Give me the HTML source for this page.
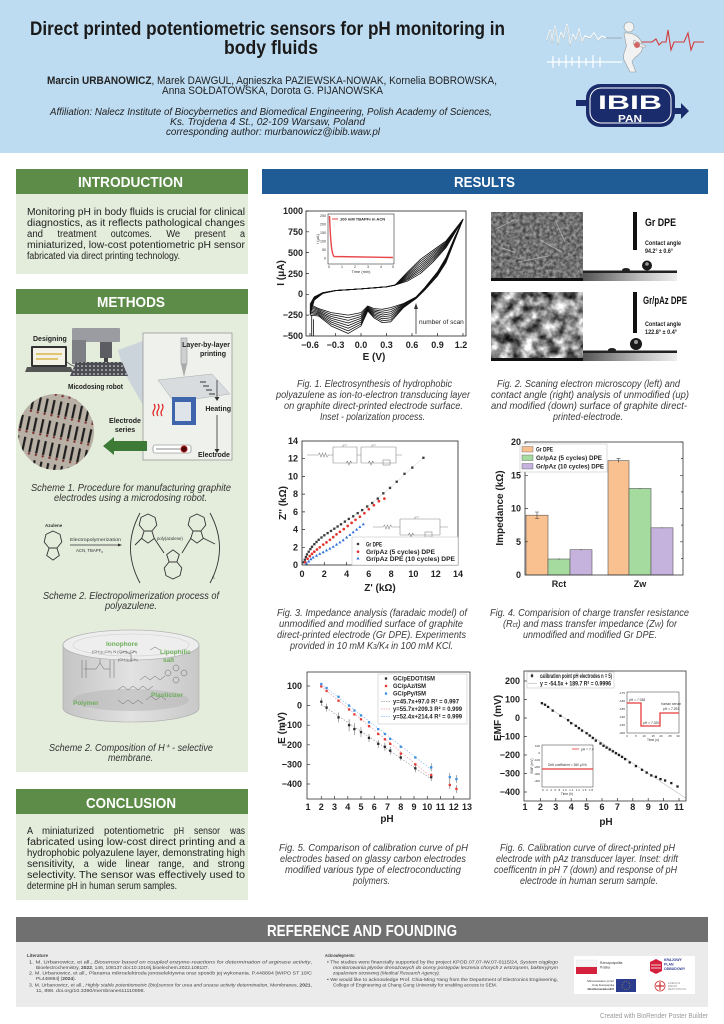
<!DOCTYPE html>
<html><head><meta charset="utf-8">
<style>
html,body{margin:0;padding:0;background:#fff;}
svg{display:block;}
text{font-family:"Liberation Sans",Arial,sans-serif;}
</style></head><body>
<svg width="724" height="1024" viewBox="0 0 724 1024" xmlns="http://www.w3.org/2000/svg">
<defs>
<rect id="sq" x="-1.15" y="-1.15" width="2.3" height="2.3"/>
<circle id="ci" r="1.35"/>
<path id="tri" d="M0,-1.7 L1.55,1 L-1.55,1Z"/>
<filter id="f1" x="0" y="0" width="1" height="1" color-interpolation-filters="sRGB"><feTurbulence type="fractalNoise" baseFrequency="0.3" numOctaves="2" seed="2"/><feColorMatrix type="matrix" values="0.6 0 0 0 0.14  0.6 0 0 0 0.14  0.6 0 0 0 0.14  0 0 0 0 1"/></filter>
<filter id="f2" x="0" y="0" width="1" height="1" color-interpolation-filters="sRGB"><feTurbulence type="fractalNoise" baseFrequency="0.09" numOctaves="3" seed="7"/><feColorMatrix type="matrix" values="1.6 0 0 0 -0.25  1.6 0 0 0 -0.25  1.6 0 0 0 -0.25  0 0 0 0 1"/></filter>
<linearGradient id="cg" x1="0" x2="1" y1="0" y2="0"><stop offset="0" stop-color="#555"/><stop offset="0.6" stop-color="#bbb"/><stop offset="1" stop-color="#eee"/></linearGradient>
<linearGradient id="cyl" x1="0" x2="1" y1="0" y2="0"><stop offset="0" stop-color="#c4c4c4"/><stop offset="0.5" stop-color="#e2e2e2"/><stop offset="1" stop-color="#c8c8c8"/></linearGradient>
<pattern id="elp" width="7" height="21" patternUnits="userSpaceOnUse" patternTransform="rotate(12)"><rect x="2.5" y="2" width="2.2" height="14" fill="#1e1e1e"/><circle cx="3.6" cy="17.5" r="1.2" fill="#7a3030"/></pattern>
<pattern id="dots" width="4" height="4" patternUnits="userSpaceOnUse"><circle cx="2" cy="2" r="0.8" fill="#eee"/></pattern>
<clipPath id="cc"><circle cx="56" cy="432" r="38"/></clipPath>
<g id="az" fill="none" stroke="#333" stroke-width="0.9"><polygon points="0,-9 7,-5.6 8.8,2 3.9,8.1 -3.9,8.1 -8.8,2 -7,-5.6"/><polygon points="-3.9,8.1 3.9,8.1 6.3,15.5 0,20.1 -6.3,15.5"/></g>
</defs>

<!-- HEADER -->
<rect x="0" y="0" width="724" height="153" fill="#bddcf2"/>
<text x="30" y="35" font-size="19" font-weight="bold" fill="#1a1a1a" textLength="475" lengthAdjust="spacingAndGlyphs">Direct printed potentiometric sensors for pH monitoring in</text>
<text x="224" y="54" font-size="19" font-weight="bold" fill="#1a1a1a" textLength="94" lengthAdjust="spacingAndGlyphs">body fluids</text>
<text x="47" y="84" font-size="11" fill="#222" textLength="450" lengthAdjust="spacingAndGlyphs"><tspan font-weight="bold">Marcin URBANOWICZ</tspan>, Marek DAWGUL, Agnieszka PAZIEWSKA-NOWAK, Kornelia BOBROWSKA,</text>
<text x="162" y="94" font-size="11" fill="#222" textLength="221" lengthAdjust="spacingAndGlyphs">Anna SOŁDATOWSKA, Dorota G. PIJANOWSKA</text>
<text x="50" y="115" font-size="10.5" font-style="italic" fill="#222" textLength="442" lengthAdjust="spacingAndGlyphs">Affiliation: Nalecz Institute of Biocybernetics and Biomedical Engineering, Polish Academy of Sciences,</text>
<text x="170" y="125" font-size="10.5" font-style="italic" fill="#222" textLength="195" lengthAdjust="spacingAndGlyphs">Ks. Trojdena 4 St., 02-109 Warsaw, Poland</text>
<text x="166" y="135" font-size="10.5" font-style="italic" fill="#222" textLength="214" lengthAdjust="spacingAndGlyphs">corresponding author: murbanowicz@ibib.waw.pl</text>

<!-- illustration -->
<polyline points="547,40 550,30 552,42 555,26 558,44 561,33 564,38 567,24 570,45 573,35 576,40 579,30 582,42 585,36 590,38 594,33 598,40 602,36 606,38" fill="none" stroke="#fff" stroke-width="1.3"/>
<polyline points="547,41 550,31 552,43 555,27 558,45 561,34 564,39 567,25 570,46 573,36 576,41 579,31 582,43 585,37 590,39 594,34 598,41 602,37 606,39" fill="none" stroke="#9aa" stroke-width="0.4"/>
<line x1="606" y1="38" x2="622" y2="38" stroke="#888" stroke-width="0.6"/>
<line x1="547" y1="62" x2="622" y2="62" stroke="#fff" stroke-width="1.3"/>
<path d="M553,56 v12 M559,58 v8 M566,55 v13 M572,57 v9 M579,56 v12 M586,58 v8 M593,55 v13 M600,57 v10" stroke="#fff" stroke-width="1.2"/>
<polyline points="637,42 652,42 656,39 659,45 662,42 666,42 668,30 671,50 674,42 684,42 688,33 691,50 694,42 704,42" fill="none" stroke="#d23b3b" stroke-width="1.1"/>
<ellipse cx="629" cy="27" rx="5" ry="5" fill="#f3f3f3" stroke="#999" stroke-width="0.6"/>
<path d="M624,33 C636,32 644,40 642,50 C640,56 634,56 632,62 L636,72 L630,72 L624,60 C622,52 628,48 626,44 Z" fill="#f2f2f2" stroke="#999" stroke-width="0.6"/>
<path d="M634,40 L646,46 L644,48 L633,44Z" fill="#e8e8e8" stroke="#999" stroke-width="0.5"/>
<circle cx="637" cy="45" r="3" fill="#c33" opacity="0.7"/>

<!-- logo -->
<path d="M576,100 L589,100 L589,95 L597,103 L589,111 L589,106 L576,106Z" fill="#1b2c6c"/>
<path d="M674,108 L681,108 L681,103 L689,111 L681,119 L681,114 L674,114Z" fill="#1b2c6c"/>
<rect x="586" y="84" width="89" height="43" rx="14" fill="#1b2c6c"/>
<rect x="590" y="88" width="81" height="35" rx="11" fill="none" stroke="#fff" stroke-width="1"/>
<text x="598" y="109" font-size="19" font-weight="bold" fill="#fff" textLength="64" lengthAdjust="spacingAndGlyphs">IBIB</text>
<text x="618" y="122" font-size="10" font-weight="bold" fill="#fff" textLength="24" lengthAdjust="spacingAndGlyphs">PAN</text>

<!-- LEFT COLUMN -->
<rect x="16" y="169" width="232" height="25" fill="#5d8b48"/>
<text x="78" y="187" font-size="15" font-weight="bold" fill="#fff" textLength="105" lengthAdjust="spacingAndGlyphs">INTRODUCTION</text>
<rect x="16" y="194" width="232" height="80" fill="#e4ecdc"/>
<g font-size="10" fill="#222">
<text x="27" y="215" textLength="218" lengthAdjust="spacingAndGlyphs">Monitoring pH in body fluids is crucial for clinical</text>
<text x="27" y="226" textLength="218" lengthAdjust="spacingAndGlyphs">diagnostics, as it reflects pathological changes</text>
<text x="27" y="237" textLength="16" lengthAdjust="spacingAndGlyphs">and</text><text x="57.4" y="237" textLength="39" lengthAdjust="spacingAndGlyphs">treatment</text><text x="110.8" y="237" textLength="41" lengthAdjust="spacingAndGlyphs">outcomes.</text><text x="166.2" y="237" textLength="14" lengthAdjust="spacingAndGlyphs">We</text><text x="194.6" y="237" textLength="31" lengthAdjust="spacingAndGlyphs">present</text><text x="240" y="237" textLength="5" lengthAdjust="spacingAndGlyphs">a</text>
<text x="27" y="248" textLength="218" lengthAdjust="spacingAndGlyphs">miniaturized, low-cost potentiometric pH sensor</text>
<text x="27" y="259" textLength="153" lengthAdjust="spacingAndGlyphs">fabricated via direct printing technology.</text>
</g>

<rect x="16" y="289" width="232" height="25" fill="#5d8b48"/>
<text x="97" y="307" font-size="15" font-weight="bold" fill="#fff" textLength="68" lengthAdjust="spacingAndGlyphs">METHODS</text>
<rect x="16" y="314" width="232" height="458" fill="#e4ecdc"/>

<!-- scheme 1 -->
<text x="33" y="341" font-size="7" font-weight="bold" fill="#222">Designing</text>
<rect x="31" y="346" width="36" height="21" fill="#333" rx="1"/>
<rect x="33" y="348" width="32" height="17" fill="#f4f1e6"/>
<path d="M36,354 h26 M36,359 h22" stroke="#d9b84a" stroke-width="1.5"/>
<polygon points="27,367 71,367 73,372 25,372" fill="#555"/>
<path d="M67,362 C74,368 76,366 82,366" fill="none" stroke="#444" stroke-width="0.8"/>
<polygon points="118,350 143,341 143,405 124,372" fill="#c3ceda" opacity="0.8"/>
<rect x="72" y="328" width="48" height="14" rx="1" fill="#9a9ca2"/>
<rect x="72" y="340" width="14" height="24" fill="#7d7f85"/>
<rect x="100" y="342" width="12" height="16" fill="#5b5d63"/>
<rect x="104" y="358" width="4" height="4" fill="#444"/>
<polygon points="76,362 122,362 128,376 70,376" fill="#4b4d52"/>
<polygon points="76,362 122,362 128,376 70,376" fill="url(#dots)"/>
<text x="68" y="389" font-size="7" font-weight="bold" fill="#222" textLength="55" lengthAdjust="spacingAndGlyphs">Micodosing robot</text>
<rect x="143" y="333" width="89" height="127" fill="#eef1ec" stroke="#9a9a9a" stroke-width="0.8"/>
<rect x="181" y="338" width="6" height="26" fill="#cfcfcf" stroke="#888" stroke-width="0.5"/>
<polygon points="181,364 187,364 184,377" fill="#aaa"/>
<text x="230" y="347" font-size="7" font-weight="bold" fill="#222" text-anchor="end">Layer-by-layer</text>
<text x="226" y="356" font-size="7" font-weight="bold" fill="#222" text-anchor="end">printing</text>
<polygon points="158,380 212,374 230,394 174,402" fill="#d9dcdf" stroke="#aaa" stroke-width="0.5"/>
<path d="M200,382 h6 M203,386 h6 M206,390 h6 M209,394 h6" stroke="#333" stroke-width="1"/>
<path d="M217,380 V398" stroke="#333" stroke-width="0.8"/><polygon points="214.5,397 219.5,397 217,401" fill="#333"/>
<text x="231" y="411" font-size="7" font-weight="bold" fill="#222" text-anchor="end">Heating</text>
<path d="M217,415 V450" stroke="#333" stroke-width="0.8"/><polygon points="214.5,449 219.5,449 217,453" fill="#333"/>
<rect x="172" y="397" width="24" height="28" fill="#3f66ad"/>
<rect x="175" y="402" width="16" height="19" fill="#dfe3ea"/>
<path d="M154,404 q2,3 0,6 q-2,3 0,6 M158,404 q2,3 0,6 q-2,3 0,6 M162,404 q2,3 0,6 q-2,3 0,6" fill="none" stroke="#e02020" stroke-width="1.2"/>
<rect x="153" y="445" width="38" height="8" rx="2" fill="#fff" stroke="#777" stroke-width="0.6"/>
<line x1="156" y1="449" x2="180" y2="449" stroke="#888" stroke-width="1"/>
<circle cx="184" cy="449" r="3.2" fill="#4a0a0a" stroke="#d22" stroke-width="0.8"/>
<text x="198" y="457" font-size="7" font-weight="bold" fill="#222">Electrode</text>
<circle cx="56" cy="432" r="38" fill="#b8b0a4"/>
<rect x="16" y="392" width="82" height="82" fill="url(#elp)" clip-path="url(#cc)"/>
<polygon points="103,446 114,437 114,441 147,441 147,451 114,451 114,455" fill="#3d7a35"/>
<text x="125" y="423" font-size="7" font-weight="bold" fill="#222" text-anchor="middle">Electrode</text>
<text x="125" y="432" font-size="7" font-weight="bold" fill="#222" text-anchor="middle">series</text>
<g font-size="10" font-style="italic" fill="#333">
<text x="31" y="491" textLength="200" lengthAdjust="spacingAndGlyphs">Scheme 1.  Procedure for manufacturing graphite</text>
<text x="54" y="501" textLength="153" lengthAdjust="spacingAndGlyphs">electrodes using a microdosing robot.</text>
</g>

<!-- scheme 2 chemistry -->
<text x="45" y="527" font-size="4.5" font-weight="bold" fill="#333">Azulene</text>
<use href="#az" x="53" y="540"/>
<text x="70" y="541" font-size="4.3" fill="#333" textLength="51" lengthAdjust="spacingAndGlyphs">Electropolymerization</text>
<path d="M70,545 H119" stroke="#333" stroke-width="0.7"/><polygon points="118,543.5 122,545 118,546.5" fill="#333"/>
<text x="76" y="552" font-size="4.3" fill="#333">ACN, TBAPF<tspan font-size="3" dy="1">6</tspan></text>
<path d="M140,513 Q121,548 140,583 M210,513 Q229,548 210,583" fill="none" stroke="#333" stroke-width="0.9"/>
<use href="#az" x="148" y="523"/>
<use href="#az" transform="translate(173,570) rotate(180)"/>
<use href="#az" x="197" y="523"/>
<path d="M142,538 L135,545 M154,538 L164,553 M182,553 L191,538 M203,538 L215,544" stroke="#333" stroke-width="0.9"/>
<text x="157" y="540" font-size="4.3" fill="#333">poly(azulene)</text>
<text x="212" y="579" font-size="4.5" fill="#333">n</text>
<g font-size="10" font-style="italic" fill="#333">
<text x="43" y="599" textLength="176" lengthAdjust="spacingAndGlyphs">Scheme 2. Electropolimerization process of</text>
<text x="105" y="609" textLength="52" lengthAdjust="spacingAndGlyphs">polyazulene.</text>
</g>

<!-- membrane -->
<path d="M63,645 L63,708 A68,14 0 0 0 199,708 L199,645 Z" fill="url(#cyl)" stroke="#aaa" stroke-width="0.6"/>
<ellipse cx="131" cy="700" rx="58" ry="11" fill="#b9b9b9" opacity="0.6"/>
<ellipse cx="131" cy="645" rx="68" ry="15" fill="#eeeeee" stroke="#b5b5b5" stroke-width="0.8"/>
<ellipse cx="131" cy="645" rx="58" ry="11" fill="none" stroke="#d0d0d0" stroke-width="0.6"/>
<g fill="none" stroke="#666" stroke-width="0.5">
<path d="M82,660 v18 M86,660 v18 M84,669 h12 l4,-6 l4,6 h6 M100,663 v-4 M110,660 v18 M114,660 v18"/>
<path d="M118,690 l5,-4 l5,4 l5,-4 l5,4 l5,-4 l5,4 l5,-4 M140,680 l5,-4 l5,4 l5,-4 l5,4 l5,-4 M118,700 l5,4 l5,-4 l5,4 l5,-4 l5,4 M146,700 l5,-4 l5,4 l5,-4 l5,4"/>
<path d="M120,654 l5,-3 l5,3 l5,-3 M131,654 v8 M150,650 l5,-3 l5,3"/>
<circle cx="176" cy="668" r="3"/><circle cx="168" cy="673" r="3"/><circle cx="184" cy="673" r="3"/><circle cx="176" cy="680" r="3"/>
</g>
<text x="106" y="646" font-size="6.5" font-weight="bold" fill="#6cae5a">Ionophore</text>
<text x="92" y="653" font-size="4" fill="#555">(CH₂)₁₁CH₃  N  (CH₂)₁₁CH₃</text>
<text x="118" y="661" font-size="4" fill="#555">(CH₂)₁₁CH₃</text>
<text x="160" y="654" font-size="6.5" font-weight="bold" fill="#6cae5a">Lipophilic</text>
<text x="163" y="662" font-size="6.5" font-weight="bold" fill="#6cae5a">salt</text>
<text x="151" y="697" font-size="6.5" font-weight="bold" fill="#6cae5a">Plasticizer</text>
<text x="73" y="705" font-size="6.5" font-weight="bold" fill="#6cae5a">Polymer</text>
<g font-size="10" font-style="italic" fill="#333">
<text x="49" y="751" textLength="164" lengthAdjust="spacingAndGlyphs">Scheme 2. Composition of H⁺ - selective</text>
<text x="108" y="761" textLength="45" lengthAdjust="spacingAndGlyphs">membrane.</text>
</g>

<!-- conclusion -->
<rect x="16" y="789" width="232" height="25" fill="#5d8b48"/>
<text x="86" y="808" font-size="15" font-weight="bold" fill="#fff" textLength="90" lengthAdjust="spacingAndGlyphs">CONCLUSION</text>
<rect x="16" y="814" width="232" height="86" fill="#e4ecdc"/>
<g font-size="10" fill="#222">
<text x="27" y="834" textLength="6" lengthAdjust="spacingAndGlyphs">A</text><text x="42" y="834" textLength="52" lengthAdjust="spacingAndGlyphs">miniaturized</text><text x="104" y="834" textLength="60" lengthAdjust="spacingAndGlyphs">potentiometric</text><text x="174" y="834" textLength="10" lengthAdjust="spacingAndGlyphs">pH</text><text x="194" y="834" textLength="26" lengthAdjust="spacingAndGlyphs">sensor</text><text x="230" y="834" textLength="15" lengthAdjust="spacingAndGlyphs">was</text>
<text x="27" y="845" textLength="218" lengthAdjust="spacingAndGlyphs">fabricated using low-cost direct printing and a</text>
<text x="27" y="856" textLength="218" lengthAdjust="spacingAndGlyphs">hydrophobic polyazulene layer, demonstrating high</text>
<text x="27" y="867" textLength="48" lengthAdjust="spacingAndGlyphs">sensitivity,</text><text x="83.8" y="867" textLength="5" lengthAdjust="spacingAndGlyphs">a</text><text x="97.6" y="867" textLength="19" lengthAdjust="spacingAndGlyphs">wide</text><text x="125.4" y="867" textLength="24" lengthAdjust="spacingAndGlyphs">linear</text><text x="158.2" y="867" textLength="26" lengthAdjust="spacingAndGlyphs">range,</text><text x="193" y="867" textLength="16" lengthAdjust="spacingAndGlyphs">and</text><text x="217.8" y="867" textLength="27" lengthAdjust="spacingAndGlyphs">strong</text>
<text x="27" y="878" textLength="218" lengthAdjust="spacingAndGlyphs">selectivity. The sensor was effectively used to</text>
<text x="27" y="889" textLength="150" lengthAdjust="spacingAndGlyphs">determine pH in human serum samples.</text>
</g>

<!-- RESULTS -->
<rect x="262" y="169" width="446" height="25" fill="#1f5b95"/>
<text x="454" y="187" font-size="15" font-weight="bold" fill="#fff" textLength="61" lengthAdjust="spacingAndGlyphs">RESULTS</text>

<!-- FIG 1 -->
<g fill="none" stroke="#111" stroke-width="0.8" stroke-linejoin="round" transform="matrix(0.85 0 0 -0.08333 361 294.3)">
<polyline vector-effect="non-scaling-stroke" points="-60,-120 -55,-30 -45,20 -30,45 0,65 30,90 40,110 55,160 70,250 85,390 100,560 120,900 110,680 100,440 90,270 75,80 65,-30 50,-110 35,-160 25,-180 15,-170 8,-140 0,-220 -15,-250 -35,-220 -50,-170 -60,-120"/>
<polyline vector-effect="non-scaling-stroke" points="-60,-139 -55,-36 -45,19 -30,45 0,65 30,90 40,110 55,176 70,274 85,410 100,571 120,900 110,674 100,431 90,263 75,76 65,-33 50,-117 35,-184 25,-203 15,-186 8,-149 0,-243 -15,-281 -35,-243 -50,-183 -60,-139"/>
<polyline vector-effect="non-scaling-stroke" points="-60,-157 -55,-41 -45,17 -30,45 0,65 30,90 40,110 55,191 70,299 85,430 100,583 120,900 110,669 100,423 90,256 75,71 65,-36 50,-124 35,-209 25,-226 15,-201 8,-157 0,-266 -15,-313 -35,-266 -50,-196 -60,-157"/>
<polyline vector-effect="non-scaling-stroke" points="-60,-176 -55,-47 -45,16 -30,45 0,65 30,90 40,110 55,207 70,323 85,450 100,594 120,900 110,663 100,414 90,249 75,67 65,-39 50,-131 35,-233 25,-249 15,-217 8,-166 0,-289 -15,-344 -35,-289 -50,-209 -60,-176"/>
<polyline vector-effect="non-scaling-stroke" points="-60,-194 -55,-53 -45,14 -30,45 0,65 30,90 40,110 55,223 70,347 85,470 100,606 120,900 110,657 100,406 90,241 75,63 65,-41 50,-139 35,-257 25,-271 15,-233 8,-174 0,-311 -15,-376 -35,-311 -50,-221 -60,-194"/>
<polyline vector-effect="non-scaling-stroke" points="-60,-213 -55,-59 -45,13 -30,45 0,65 30,90 40,110 55,239 70,371 85,490 100,617 120,900 110,651 100,397 90,234 75,59 65,-44 50,-146 35,-281 25,-294 15,-249 8,-183 0,-334 -15,-407 -35,-334 -50,-234 -60,-213"/>
<polyline vector-effect="non-scaling-stroke" points="-60,-231 -55,-64 -45,11 -30,45 0,65 30,90 40,110 55,254 70,396 85,510 100,629 120,900 110,646 100,389 90,227 75,54 65,-47 50,-153 35,-306 25,-317 15,-264 8,-191 0,-357 -15,-439 -35,-357 -50,-247 -60,-231"/>
<polyline vector-effect="non-scaling-stroke" points="-60,-250 -55,-70 -45,10 -30,45 0,65 30,90 40,110 55,270 70,420 85,530 100,640 120,900 110,640 100,380 90,220 75,50 65,-50 50,-160 35,-330 25,-340 15,-280 8,-200 0,-380 -15,-470 -35,-380 -50,-260 -60,-250"/>
<polyline vector-effect="non-scaling-stroke" points="-58,-250 -58,-500"/>
<polyline vector-effect="non-scaling-stroke" points="-56,-300 -56,-500"/>
</g>
<rect x="306" y="211" width="160" height="125" fill="none" stroke="#222" stroke-width="0.8"/>
<path d="M306,211h3M306,231.8h3M306,252.6h3M306,273.5h3M306,294.3h3M306,315.1h3M310,336v-3M335.5,336v-3M361,336v-3M386.5,336v-3M412,336v-3M437.5,336v-3M463,336v-3" stroke="#222" stroke-width="0.7"/>
<g font-size="9" font-weight="bold" fill="#222" text-anchor="end">
<text x="303" y="214">1000</text><text x="303" y="235">750</text><text x="303" y="256">500</text><text x="303" y="277">250</text><text x="303" y="297">0</text><text x="303" y="318">−250</text><text x="303" y="339">−500</text>
</g>
<g font-size="9" font-weight="bold" fill="#222" text-anchor="middle">
<text x="310" y="348">−0.6</text><text x="335.5" y="348">−0.3</text><text x="361" y="348">0.0</text><text x="386.5" y="348">0.3</text><text x="412" y="348">0.6</text><text x="437.5" y="348">0.9</text><text x="461" y="348">1.2</text>
</g>
<text x="374" y="360" font-size="10" font-weight="bold" fill="#222" text-anchor="middle">E (V)</text>
<text transform="translate(284,273) rotate(-90)" font-size="10" font-weight="bold" fill="#222" text-anchor="middle">I (μA)</text>
<path d="M416,334 V308" stroke="#333" stroke-width="0.8"/><polygon points="414,309 418,309 416,303" fill="#333"/>
<text x="419" y="324" font-size="6.5" fill="#222">number of scan</text>
<rect x="328" y="214" width="66" height="50" fill="#fff" stroke="#333" stroke-width="0.6"/>
<path d="M329.5,216 C330.5,240 331.5,254 334,256.5 L393,257.5" fill="none" stroke="#e8474a" stroke-width="1.4"/>
<line x1="332" y1="219" x2="338" y2="219" stroke="#e8474a" stroke-width="1"/>
<text x="340" y="220.5" font-size="4" font-weight="bold" fill="#222">100 mM TBAPF<tspan font-size="3">6</tspan> in ACN</text>
<g font-size="3.6" fill="#333" text-anchor="end"><text x="326" y="217">250</text><text x="326" y="225.5">200</text><text x="326" y="234">150</text><text x="326" y="242.5">100</text><text x="326" y="251">50</text><text x="326" y="259.5">0</text></g>
<g font-size="3.6" fill="#333" text-anchor="middle"><text x="329" y="268">0</text><text x="342" y="268">1</text><text x="355" y="268">2</text><text x="368" y="268">3</text><text x="381" y="268">4</text><text x="393" y="268">5</text></g>
<text x="361" y="273" font-size="4" fill="#333" text-anchor="middle">Time (min)</text>
<text transform="translate(319,239) rotate(-90)" font-size="4" fill="#333" text-anchor="middle">I (μA)</text>
<g font-size="10" font-style="italic" fill="#3c3c3c">
<text x="297" y="387" textLength="155" lengthAdjust="spacingAndGlyphs">Fig. 1. Electrosynthesis of hydrophobic</text>
<text x="276" y="398" textLength="194" lengthAdjust="spacingAndGlyphs">polyazulene as ion-to-electron transducing layer</text>
<text x="284" y="409" textLength="179" lengthAdjust="spacingAndGlyphs">on  graphite direct-printed electrode surface.</text>
<text x="320" y="420" textLength="105" lengthAdjust="spacingAndGlyphs">Inset - polarization process.</text>
</g>

<!-- FIG 2 -->
<rect x="491" y="212" width="92" height="69" filter="url(#f1)"/>
<path d="M498,228 l18,-9 M540,240 l22,12 M518,262 l30,-6 M556,222 l9,20 M502,248 l12,4" stroke="#c8c8c8" stroke-width="1" opacity="0.6"/>
<rect x="491" y="278" width="92" height="3" fill="#111"/>
<rect x="583" y="212" width="94" height="69" fill="#fff"/>
<rect x="583" y="273" width="94" height="8" fill="url(#cg)"/>
<rect x="583" y="270.5" width="94" height="2.5" fill="#222"/>
<ellipse cx="626" cy="270" rx="4" ry="2" fill="#222"/>
<circle cx="647" cy="265.5" r="5" fill="#1a1a1a"/><circle cx="647" cy="264" r="1.8" fill="#999"/>
<rect x="633" y="212" width="4" height="38" fill="#111"/>
<rect x="491" y="292" width="92" height="69" filter="url(#f2)"/>
<rect x="491" y="358" width="92" height="3" fill="#111"/>
<rect x="583" y="292" width="94" height="69" fill="#fff"/>
<rect x="583" y="353" width="94" height="8" fill="url(#cg)"/>
<rect x="583" y="350.5" width="94" height="2.5" fill="#222"/>
<ellipse cx="612" cy="350" rx="4" ry="2" fill="#222"/>
<circle cx="636" cy="344" r="6" fill="#1a1a1a"/><circle cx="636" cy="342" r="2" fill="#999"/>
<rect x="633" y="292" width="4" height="41" fill="#111"/>
<text x="645" y="226" font-size="11" font-weight="bold" fill="#111" textLength="31" lengthAdjust="spacingAndGlyphs">Gr DPE</text>
<text x="645" y="245" font-size="6" font-weight="bold" fill="#222" textLength="36" lengthAdjust="spacingAndGlyphs">Contact angle</text>
<text x="645" y="253" font-size="6" font-weight="bold" fill="#222" textLength="28" lengthAdjust="spacingAndGlyphs">94.2° ± 0.6°</text>
<text x="643" y="304" font-size="11" font-weight="bold" fill="#111" textLength="44" lengthAdjust="spacingAndGlyphs">Gr/pAz DPE</text>
<text x="645" y="326" font-size="6" font-weight="bold" fill="#222" textLength="36" lengthAdjust="spacingAndGlyphs">Contact angle</text>
<text x="645" y="334" font-size="6" font-weight="bold" fill="#222" textLength="32" lengthAdjust="spacingAndGlyphs">122.8° ± 0.4°</text>
<g font-size="10" font-style="italic" fill="#3c3c3c">
<text x="497" y="387" textLength="183" lengthAdjust="spacingAndGlyphs">Fig. 2.  Scaning electron microscopy (left) and</text>
<text x="491" y="398" textLength="198" lengthAdjust="spacingAndGlyphs">contact angle  (right) analysis of  unmodified (up)</text>
<text x="491" y="409" textLength="196" lengthAdjust="spacingAndGlyphs">and  modified  (down) surface of  graphite direct-</text>
<text x="553" y="420" textLength="70" lengthAdjust="spacingAndGlyphs">printed-electrode.</text>
</g>

<!-- FIG 3 -->
<g fill="none" stroke="#888" stroke-width="0.6">
<path d="M307,455 H318 l1.5,-2 l1.5,4 l1.5,-4 l1.5,4 l1.5,-4 l1.5,4 l1.5,-2 H333 M333,447 V463 M333,447 H357 M333,463 H357 M357,447 V463 M343,447 v-2 M343,445 h4 M346,463 l1.5,-2 l1.5,4 l1.5,-4 l1.5,2 M357,455 H361 M361,447 V463 M361,447 H396 M361,463 H396 M396,447 V463 M372,447 v-2 h4 M368,463 l1.5,-2 l1.5,4 l1.5,-4 l1.5,2 M396,455 H402"/>
<rect x="383" y="460" width="7" height="5"/>
<path d="M373,527 H383 l1.5,-2 l1.5,4 l1.5,-4 l1.5,4 l1.5,-4 l1.5,2 H400 M400,519 V535 M400,519 H440 M400,535 H440 M440,519 V535 M415,519 v-2 h4 M408,535 l1.5,-2 l1.5,4 l1.5,-4 l1.5,2 M440,527 H448"/>
<rect x="425" y="532" width="7" height="5"/>
</g>
<polyline fill="none" stroke="#bbb" stroke-width="0.4" points="303.7,562.3 310.4,549.1 318.7,539.8 331,530.9 344.9,521.6 357.7,513.2 372.2,503 390,487.9 412.3,467.6 423.4,457.8"/>
<g fill="#3a3a3a">
<use href="#sq" x="303.7" y="562.3"/><use href="#sq" x="304.8" y="559.7"/><use href="#sq" x="305.9" y="557"/><use href="#sq" x="307" y="554.4"/><use href="#sq" x="308.7" y="551.7"/><use href="#sq" x="310.4" y="549.1"/><use href="#sq" x="312" y="546.8"/><use href="#sq" x="314.3" y="544.2"/><use href="#sq" x="316.5" y="542"/><use href="#sq" x="318.7" y="539.8"/><use href="#sq" x="321.5" y="537.5"/><use href="#sq" x="324.3" y="535.3"/><use href="#sq" x="327.6" y="533.1"/><use href="#sq" x="331" y="530.9"/><use href="#sq" x="334.3" y="528.7"/><use href="#sq" x="337.6" y="526.5"/><use href="#sq" x="341" y="524.3"/><use href="#sq" x="344.9" y="521.6"/><use href="#sq" x="348.8" y="518.9"/><use href="#sq" x="353.2" y="516.3"/><use href="#sq" x="357.7" y="513.2"/><use href="#sq" x="362.2" y="510.1"/><use href="#sq" x="367.2" y="506.5"/><use href="#sq" x="372.2" y="503"/><use href="#sq" x="377.8" y="498.6"/><use href="#sq" x="383.3" y="493.3"/><use href="#sq" x="390" y="487.9"/><use href="#sq" x="396.7" y="481.7"/><use href="#sq" x="404.5" y="473.8"/><use href="#sq" x="412.3" y="467.6"/><use href="#sq" x="423.4" y="457.8"/>
</g>
<g fill="#e3342f">
<use href="#ci" x="305.3" y="562.3"/><use href="#ci" x="307.6" y="558.8"/><use href="#ci" x="309.8" y="556.1"/><use href="#ci" x="312" y="553.9"/><use href="#ci" x="314.3" y="551.7"/><use href="#ci" x="317" y="549.5"/><use href="#ci" x="319.8" y="547.3"/><use href="#ci" x="323.2" y="544.6"/><use href="#ci" x="326.5" y="542.4"/><use href="#ci" x="329.9" y="539.8"/><use href="#ci" x="333.2" y="537.1"/><use href="#ci" x="336.5" y="534.4"/><use href="#ci" x="339.9" y="531.8"/><use href="#ci" x="343.8" y="529.1"/><use href="#ci" x="347.7" y="526"/><use href="#ci" x="351.6" y="522.9"/><use href="#ci" x="355.5" y="519.8"/><use href="#ci" x="359.9" y="516.7"/><use href="#ci" x="364.4" y="513.2"/><use href="#ci" x="368.8" y="509.2"/><use href="#ci" x="373.9" y="505.2"/><use href="#ci" x="378.9" y="501.2"/><use href="#ci" x="384.4" y="498.6"/>
</g>
<g fill="#2d6fd8">
<use href="#tri" x="306.5" y="563.7"/><use href="#tri" x="308.7" y="561.5"/><use href="#tri" x="310.9" y="559.2"/><use href="#tri" x="313.1" y="557.5"/><use href="#tri" x="316.5" y="555.7"/><use href="#tri" x="319.8" y="553.9"/><use href="#tri" x="323.2" y="552.2"/><use href="#tri" x="326.5" y="550.4"/><use href="#tri" x="329.9" y="548.6"/><use href="#tri" x="333.2" y="546.8"/><use href="#tri" x="336.5" y="544.6"/><use href="#tri" x="339.9" y="542.4"/><use href="#tri" x="343.2" y="540.2"/><use href="#tri" x="346.6" y="537.5"/><use href="#tri" x="349.9" y="534.9"/><use href="#tri" x="353.2" y="532.2"/><use href="#tri" x="356.6" y="529.6"/><use href="#tri" x="359.9" y="526.9"/><use href="#tri" x="363.3" y="524.3"/>
</g>
<rect x="302" y="441" width="156" height="124" fill="none" stroke="#222" stroke-width="0.8"/>
<path d="M302,547.3h3M302,529.6h3M302,511.9h3M302,494.1h3M302,476.4h3M302,458.7h3M324.3,565v-3M346.6,565v-3M368.8,565v-3M391.1,565v-3M413.4,565v-3M435.7,565v-3" stroke="#222" stroke-width="0.7"/>
<rect x="352" y="537" width="106" height="28" fill="#fff" stroke="#bbb" stroke-width="0.5"/>
<use href="#sq" x="358" y="544" fill="#3a3a3a"/><use href="#ci" x="358" y="551.7" fill="#e3342f"/><use href="#tri" x="358" y="558.5" fill="#2d6fd8"/>
<g font-size="6.5" font-weight="bold" fill="#222">
<text x="366" y="546.3" textLength="16" lengthAdjust="spacingAndGlyphs">Gr DPE</text>
<text x="366" y="554" textLength="69" lengthAdjust="spacingAndGlyphs">Gr/pAz (5 cycles) DPE</text>
<text x="366" y="561" textLength="89" lengthAdjust="spacingAndGlyphs">Gr/pAz DPE (10 cycles) DPE</text>
</g>
<g font-size="9" font-weight="bold" fill="#222" text-anchor="end">
<text x="298" y="568">0</text><text x="298" y="550.3">2</text><text x="298" y="532.6">4</text><text x="298" y="514.9">6</text><text x="298" y="497.1">8</text><text x="298" y="479.4">10</text><text x="298" y="461.7">12</text><text x="298" y="444">14</text>
</g>
<g font-size="9" font-weight="bold" fill="#222" text-anchor="middle">
<text x="302" y="577">0</text><text x="324.3" y="577">2</text><text x="346.6" y="577">4</text><text x="368.8" y="577">6</text><text x="391.1" y="577">8</text><text x="413.4" y="577">10</text><text x="435.7" y="577">12</text><text x="458" y="577">14</text>
</g>
<text x="380" y="591" font-size="10" font-weight="bold" fill="#222" text-anchor="middle">Z' (kΩ)</text>
<text transform="translate(286,503) rotate(-90)" font-size="10" font-weight="bold" fill="#222" text-anchor="middle">Z'' (kΩ)</text>
<g font-size="10" font-style="italic" fill="#3c3c3c">
<text x="277" y="616" textLength="190" lengthAdjust="spacingAndGlyphs">Fig. 3.  Impedance analysis (faradaic model) of</text>
<text x="279" y="627" textLength="184" lengthAdjust="spacingAndGlyphs">unmodified and  modified surface of  graphite</text>
<text x="277" y="638" textLength="189" lengthAdjust="spacingAndGlyphs">direct-printed electrode (Gr DPE). Experiments</text>
<text x="290" y="649" textLength="163" lengthAdjust="spacingAndGlyphs">provided in 10 mM K<tspan font-size="7">3</tspan>/K<tspan font-size="7">4</tspan> in 100 mM KCl.</text>
</g>

<!-- FIG 4 -->
<g stroke="#555" stroke-width="0.6">
<rect x="526" y="515.2" width="22" height="59.8" fill="#f9c18f"/>
<rect x="548" y="559" width="22" height="16" fill="#a6dba0"/>
<rect x="570" y="549.7" width="22" height="25.3" fill="#c5b2dd"/>
<rect x="608" y="460.6" width="21" height="114.4" fill="#f9c18f"/>
<rect x="629" y="488.5" width="22" height="86.5" fill="#a6dba0"/>
<rect x="651" y="527.8" width="22" height="47.2" fill="#c5b2dd"/>
</g>
<path d="M537,512 v6.5 M535,512 h4 M535,518.5 h4 M559,558.3 v1.4 M581,549 v1.4 M618.5,458.6 v4 M616.5,458.6 h4 M640,488 v1 M662,527.3 v1" stroke="#444" stroke-width="0.6"/>
<rect x="525" y="442" width="158" height="133" fill="none" stroke="#333" stroke-width="0.8"/>
<path d="M525,442h3M525,475.3h3M525,508.5h3M525,541.8h3M683,442h-3M683,475.3h-3M683,508.5h-3M683,541.8h-3M683,458.6h-2M683,491.9h-2M683,525.1h-2M683,558.4h-2" stroke="#333" stroke-width="0.7"/>
<g font-size="9" font-weight="bold" fill="#222" text-anchor="end">
<text x="521" y="445">20</text><text x="521" y="478.3">15</text><text x="521" y="511.5">10</text><text x="521" y="544.8">5</text><text x="521" y="578">0</text>
</g>
<text x="559" y="587" font-size="9" font-weight="bold" fill="#222" text-anchor="middle">Rct</text>
<text x="640" y="587" font-size="9" font-weight="bold" fill="#222" text-anchor="middle">Zw</text>
<text transform="translate(503,508) rotate(-90)" font-size="10" font-weight="bold" fill="#222" text-anchor="middle">Impedance (kΩ)</text>
<rect x="520" y="444" width="87" height="28" fill="#fff" stroke="#bbb" stroke-width="0.5"/>
<rect x="522" y="446.5" width="11" height="5.5" fill="#f9c18f" stroke="#555" stroke-width="0.4"/>
<rect x="522" y="455" width="11" height="5.5" fill="#a6dba0" stroke="#555" stroke-width="0.4"/>
<rect x="522" y="463.5" width="11" height="5.5" fill="#c5b2dd" stroke="#555" stroke-width="0.4"/>
<g font-size="6.5" font-weight="bold" fill="#222">
<text x="536" y="451.5" textLength="17" lengthAdjust="spacingAndGlyphs">Gr DPE</text>
<text x="536" y="460" textLength="66" lengthAdjust="spacingAndGlyphs">Gr/pAz (5 cycles) DPE</text>
<text x="536" y="468.5" textLength="68" lengthAdjust="spacingAndGlyphs">Gr/pAz (10 cycles) DPE</text>
</g>
<g font-size="10" font-style="italic" fill="#3c3c3c">
<text x="490" y="616" textLength="199" lengthAdjust="spacingAndGlyphs">Fig. 4. Comparision of  charge transfer resistance</text>
<text x="503" y="627" textLength="174" lengthAdjust="spacingAndGlyphs">(R<tspan font-size="7">ct</tspan>) and  mass transfer impedance (Z<tspan font-size="7">W</tspan>) for</text>
<text x="523" y="638" textLength="134" lengthAdjust="spacingAndGlyphs">unmodified and modified Gr DPE.</text>
</g>

<!-- FIG 5 -->
<path d="M321.3,704.5 L431.2,778.9" stroke="#999" stroke-width="0.7" stroke-dasharray="1.5,1.5"/>
<path d="M321.3,686.4 L431.2,777" stroke="#f09a9a" stroke-width="0.7" stroke-dasharray="1.5,1.5"/>
<path d="M321.3,684.1 L431.2,769.4" stroke="#8fbdf0" stroke-width="0.7" stroke-dasharray="1.5,1.5"/>
<path d="M321.3,697.7v8M326.6,703.6v8M338.5,712.4v10M349.1,719.2v12M354.4,723.1v12M361,727.1v10M369,733.9v8M378.2,739.8v8M384.9,742.8v8M390.2,746.7v8M400.8,754.5v6M415.3,764.3v8M431.2,773.1v8M449.8,781v8M456.4,785v8M449.8,773v8M456.4,775v8M431.2,763.3v8" stroke="#555" stroke-width="0.5"/>
<g fill="#2a2a2a">
<use href="#sq" x="321.3" y="701.7"/><use href="#sq" x="326.6" y="707.6"/><use href="#sq" x="338.5" y="717.4"/><use href="#sq" x="349.1" y="725.2"/><use href="#sq" x="354.4" y="729.1"/><use href="#sq" x="361" y="732.1"/><use href="#sq" x="369" y="737.9"/><use href="#sq" x="378.2" y="743.8"/><use href="#sq" x="384.9" y="746.8"/><use href="#sq" x="390.2" y="750.7"/><use href="#sq" x="400.8" y="757.5"/><use href="#sq" x="415.3" y="768.3"/><use href="#sq" x="431.2" y="777.1"/>
</g>
<g fill="#e53935">
<use href="#sq" x="321.3" y="686.4"/><use href="#sq" x="326.6" y="690.9"/><use href="#sq" x="338.5" y="700.7"/><use href="#sq" x="349.1" y="709.5"/><use href="#sq" x="354.4" y="714.4"/><use href="#sq" x="361" y="719.3"/><use href="#sq" x="369" y="726.2"/><use href="#sq" x="378.2" y="734"/><use href="#sq" x="384.9" y="739.3"/><use href="#sq" x="390.2" y="743.8"/><use href="#sq" x="400.8" y="753.6"/><use href="#sq" x="415.3" y="764.4"/><use href="#sq" x="431.2" y="775.2"/><use href="#sq" x="449.8" y="785"/><use href="#sq" x="456.4" y="788.9"/>
</g>
<g fill="#3d8fe0">
<use href="#sq" x="321.3" y="684"/><use href="#sq" x="326.6" y="688"/><use href="#sq" x="338.5" y="696.8"/><use href="#sq" x="349.1" y="705.6"/><use href="#sq" x="354.4" y="710.5"/><use href="#sq" x="361" y="715.4"/><use href="#sq" x="369" y="722.3"/><use href="#sq" x="378.2" y="729.1"/><use href="#sq" x="384.9" y="734"/><use href="#sq" x="390.2" y="738.9"/><use href="#sq" x="400.8" y="746.8"/><use href="#sq" x="415.3" y="757.5"/><use href="#sq" x="431.2" y="767.3"/><use href="#sq" x="449.8" y="777.1"/><use href="#sq" x="456.4" y="779.1"/>
</g>
<rect x="307" y="672" width="163" height="127" fill="none" stroke="#333" stroke-width="0.8"/>
<path d="M307,686h3M307,705.6h3M307,725.2h3M307,744.8h3M307,764.4h3M307,784h3M321.3,799v-3M334.5,799v-3M347.8,799v-3M361,799v-3M374.3,799v-3M387.5,799v-3M400.8,799v-3M414,799v-3M427.3,799v-3M440.5,799v-3M453.8,799v-3" stroke="#333" stroke-width="0.7"/>
<rect x="378" y="674" width="89" height="50" fill="#fff" stroke="#bbb" stroke-width="0.5"/>
<use href="#sq" x="386" y="678.5" fill="#2a2a2a"/><use href="#sq" x="386" y="686" fill="#e53935"/><use href="#sq" x="386" y="693.5" fill="#3d8fe0"/>
<path d="M381,701.5h10" stroke="#999" stroke-width="0.7" stroke-dasharray="1.5,1"/>
<path d="M381,709h10" stroke="#f09a9a" stroke-width="0.7" stroke-dasharray="1.5,1"/>
<path d="M381,716.5h10" stroke="#8fbdf0" stroke-width="0.7" stroke-dasharray="1.5,1"/>
<g font-size="6.5" font-weight="bold" fill="#222">
<text x="393" y="680.7" textLength="42" lengthAdjust="spacingAndGlyphs">GC/pEDOT/ISM</text>
<text x="393" y="688.2" textLength="33" lengthAdjust="spacingAndGlyphs">GC/pAz/ISM</text>
<text x="393" y="695.7" textLength="33" lengthAdjust="spacingAndGlyphs">GC/pPy/ISM</text>
<text x="393" y="703.7" textLength="66" lengthAdjust="spacingAndGlyphs">y=45.7x+97.0 R² = 0.997</text>
<text x="393" y="711.2" textLength="69" lengthAdjust="spacingAndGlyphs">y=55.7x+209.3 R² = 0.999</text>
<text x="393" y="718.7" textLength="69" lengthAdjust="spacingAndGlyphs">y=52.4x+214.4 R² = 0.999</text>
</g>
<g font-size="9" font-weight="bold" fill="#222" text-anchor="end">
<text x="302" y="689">100</text><text x="302" y="708.6">0</text><text x="302" y="728.2">−100</text><text x="302" y="747.8">−200</text><text x="302" y="767.4">−300</text><text x="302" y="787">−400</text>
</g>
<g font-size="9" font-weight="bold" fill="#222" text-anchor="middle">
<text x="308" y="810">1</text><text x="321.3" y="810">2</text><text x="334.5" y="810">3</text><text x="347.8" y="810">4</text><text x="361" y="810">5</text><text x="374.3" y="810">6</text><text x="387.5" y="810">7</text><text x="400.8" y="810">8</text><text x="414" y="810">9</text><text x="427.3" y="810">10</text><text x="440.5" y="810">11</text><text x="453.8" y="810">12</text><text x="467" y="810">13</text>
</g>
<text x="387" y="822" font-size="10" font-weight="bold" fill="#222" text-anchor="middle">pH</text>
<text transform="translate(285,728) rotate(-90)" font-size="10" font-weight="bold" fill="#222" text-anchor="middle">E (mV)</text>
<g font-size="10" font-style="italic" fill="#3c3c3c">
<text x="279" y="851" textLength="189" lengthAdjust="spacingAndGlyphs">Fig. 5.  Comparison of  calibration curve of  pH</text>
<text x="280" y="862" textLength="186" lengthAdjust="spacingAndGlyphs">electrodes based on glassy carbon electrodes</text>
<text x="285" y="873" textLength="176" lengthAdjust="spacingAndGlyphs">modified  various type of electroconducting</text>
<text x="353" y="884" textLength="37" lengthAdjust="spacingAndGlyphs">polymers.</text>
</g>

<!-- FIG 6 -->
<path d="M540.4,702.1 L686,798.3" stroke="#c8c8c8" stroke-width="0.7"/>
<g fill="#1e1e1e">
<use href="#sq" x="541.9" y="703.2"/><use href="#sq" x="545" y="704.7"/><use href="#sq" x="548.1" y="706.9"/><use href="#sq" x="552.7" y="710.6"/><use href="#sq" x="560.4" y="715.8"/><use href="#sq" x="568.1" y="720.2"/><use href="#sq" x="571.2" y="723.2"/><use href="#sq" x="575.8" y="725.8"/><use href="#sq" x="578.9" y="728.2"/><use href="#sq" x="582" y="730.6"/><use href="#sq" x="586.6" y="733.2"/><use href="#sq" x="589.7" y="735.6"/><use href="#sq" x="592.8" y="738"/><use href="#sq" x="595.8" y="740.6"/><use href="#sq" x="600.5" y="743.5"/><use href="#sq" x="603.5" y="745.8"/><use href="#sq" x="606.6" y="747.6"/><use href="#sq" x="609.7" y="749.5"/><use href="#sq" x="612.8" y="751.3"/><use href="#sq" x="615.9" y="753.2"/><use href="#sq" x="618.9" y="755"/><use href="#sq" x="622" y="756.9"/><use href="#sq" x="625.1" y="759.1"/><use href="#sq" x="629.7" y="762.4"/><use href="#sq" x="635.9" y="766.1"/><use href="#sq" x="642" y="769.8"/><use href="#sq" x="646.7" y="772.6"/><use href="#sq" x="651.3" y="775.4"/><use href="#sq" x="655.9" y="776.8"/><use href="#sq" x="660.5" y="779.1"/><use href="#sq" x="665.1" y="780.5"/><use href="#sq" x="671.3" y="783.1"/><use href="#sq" x="677.5" y="786.5"/>
</g>
<rect x="524" y="671" width="162" height="130" fill="none" stroke="#333" stroke-width="0.8"/>
<path d="M524,681h3M524,699.5h3M524,718h3M524,736.5h3M524,755h3M524,773.5h3M524,792h3M540.4,801v-3M555.8,801v-3M571.2,801v-3M586.6,801v-3M602,801v-3M617.4,801v-3M632.8,801v-3M648.2,801v-3M663.6,801v-3M679,801v-3" stroke="#333" stroke-width="0.7"/>
<rect x="527" y="672" width="87" height="16" fill="#fff" stroke="#bbb" stroke-width="0.5"/>
<use href="#sq" x="532" y="675.7" fill="#1e1e1e"/><path d="M532,673.5v4.5" stroke="#333" stroke-width="0.5"/>
<path d="M528,683.3h9" stroke="#bbb" stroke-width="0.7"/>
<g font-size="6" font-weight="bold" fill="#222">
<text x="540" y="677.8" textLength="72" lengthAdjust="spacingAndGlyphs">calibration point pH electrodes n = 5)</text>
<text x="540" y="685.4" textLength="71" lengthAdjust="spacingAndGlyphs">y = -54.5x + 189.7 R² = 0.9996</text>
</g>
<rect x="627" y="692" width="52" height="41" fill="#fff" stroke="#333" stroke-width="0.5"/>
<path d="M627,703 L641,703 L641,726 L660,726 L660,713 L679,713" fill="none" stroke="#e83a3a" stroke-width="1.3"/>
<g font-size="3.3" fill="#333">
<text x="629" y="701">pH = 7.038</text><text x="643" y="724">pH = 7.020</text><text x="661" y="705">human serum</text><text x="663" y="710">pH = 7.291</text>
</g>
<g font-size="3" fill="#333" text-anchor="end"><text x="625" y="694">-175</text><text x="625" y="702">-180</text><text x="625" y="710">-185</text><text x="625" y="718">-190</text><text x="625" y="726">-195</text><text x="625" y="734">-200</text></g>
<g font-size="3" fill="#333" text-anchor="middle"><text x="627" y="737">0</text><text x="636" y="737">5</text><text x="644" y="737">10</text><text x="653" y="737">15</text><text x="661" y="737">20</text><text x="670" y="737">25</text><text x="678" y="737">30</text></g>
<text x="653" y="741" font-size="3.3" fill="#333" text-anchor="middle">Time (s)</text>
<rect x="542" y="745" width="51" height="42" fill="#fff" stroke="#333" stroke-width="0.5"/>
<path d="M542,769 H593" stroke="#e83a3a" stroke-width="1.3"/>
<path d="M572,749 h7" stroke="#e83a3a" stroke-width="0.8"/>
<g font-size="3.3" fill="#333">
<text x="581" y="750.5">pH = 7.4</text><text x="548" y="766">Drift coefficient = 360 μV/h</text>
</g>
<g font-size="3" fill="#333" text-anchor="end"><text x="540" y="747">100</text><text x="540" y="754">0</text><text x="540" y="761">-100</text><text x="540" y="768">-200</text><text x="540" y="775">-300</text><text x="540" y="782">-400</text></g>
<text x="542" y="791" font-size="3" fill="#333" textLength="51" lengthAdjust="spacing">0 2 4 6 8 10 12 14 16 18</text>
<text x="567" y="795" font-size="3.3" fill="#333" text-anchor="middle">Time (h)</text>
<text transform="translate(533,766) rotate(-90)" font-size="3.3" fill="#333" text-anchor="middle">EMF (mV)</text>
<g font-size="9" font-weight="bold" fill="#222" text-anchor="end">
<text x="520" y="684">200</text><text x="520" y="702.5">100</text><text x="520" y="721">0</text><text x="520" y="739.5">−100</text><text x="520" y="758">−200</text><text x="520" y="776.5">−300</text><text x="520" y="795">−400</text>
</g>
<g font-size="9" font-weight="bold" fill="#222" text-anchor="middle">
<text x="525" y="810">1</text><text x="540.4" y="810">2</text><text x="555.8" y="810">3</text><text x="571.2" y="810">4</text><text x="586.6" y="810">5</text><text x="602" y="810">6</text><text x="617.4" y="810">7</text><text x="632.8" y="810">8</text><text x="648.2" y="810">9</text><text x="663.6" y="810">10</text><text x="679" y="810">11</text>
</g>
<text x="606" y="825" font-size="10" font-weight="bold" fill="#222" text-anchor="middle">pH</text>
<text transform="translate(501,718) rotate(-90)" font-size="10" font-weight="bold" fill="#222" text-anchor="middle">EMF (mV)</text>
<g font-size="10" font-style="italic" fill="#3c3c3c">
<text x="500" y="851" textLength="175" lengthAdjust="spacingAndGlyphs">Fig. 6.  Calibration curve of  direct-printed pH</text>
<text x="496" y="862" textLength="182" lengthAdjust="spacingAndGlyphs">electrode with pAz transducer layer. Inset:  drift</text>
<text x="494" y="873" textLength="183" lengthAdjust="spacingAndGlyphs">coefficentn in pH 7 (down) and  response of pH</text>
<text x="520" y="884" textLength="138" lengthAdjust="spacingAndGlyphs">electrode in human serum sample.</text>
</g>

<!-- FOOTER -->
<rect x="16" y="917" width="692" height="25" fill="#707070"/>
<text x="267" y="936" font-size="16" font-weight="bold" fill="#fff" textLength="190" lengthAdjust="spacingAndGlyphs">REFERENCE AND FOUNDING</text>
<rect x="16" y="942" width="692" height="65" fill="#ebebeb"/>
<g font-size="4.6" fill="#444">
<text x="27" y="957" font-weight="bold" textLength="21" lengthAdjust="spacingAndGlyphs">Literature</text>
<text x="29" y="963.5" textLength="283" lengthAdjust="spacingAndGlyphs">1. M. Urbanowicz, et all., <tspan font-style="italic">Biosensor based on coupled enzyme-reactions for determination of arginase activity</tspan>,</text>
<text x="36" y="969" textLength="173" lengthAdjust="spacingAndGlyphs">Bioelectrochemistry, <tspan font-weight="bold">2022</tspan>, 146, 108137 doi:10.1016/j.bioelechem.2022.108137.</text>
<text x="29" y="974.5" textLength="283" lengthAdjust="spacingAndGlyphs">2. M. Urbanowicz, et all., Planarna mikroelektroda jonoselektywna oraz sposób jej wykonania. P.448894 [WIPO ST 10/C</text>
<text x="36" y="980" textLength="40" lengthAdjust="spacingAndGlyphs">PL448894] (<tspan font-weight="bold">2024</tspan>).</text>
<text x="29" y="986.5" textLength="283" lengthAdjust="spacingAndGlyphs">3. M. Urbanowicz, et all., <tspan font-style="italic">Highly stable potentiometric (bio)sensor for urea and urease activity determination</tspan>, Membranes, <tspan font-weight="bold">2021</tspan>,</text>
<text x="36" y="992" textLength="109" lengthAdjust="spacingAndGlyphs">11, 898. doi.org/10.3390/membranes11110898.</text>
<text x="325" y="957" font-weight="bold" textLength="30" lengthAdjust="spacingAndGlyphs">Acknowlegments:</text>
<text x="327" y="963.5" textLength="231" lengthAdjust="spacingAndGlyphs">• The studies were  financially supported by the project  KPOD.07.07-IW.07-0115/24, <tspan font-style="italic">System ciągłego</tspan></text>
<text x="333" y="969" font-style="italic" textLength="225" lengthAdjust="spacingAndGlyphs">monitorowania płynów drenażowych do oceny postępów leczenia chorych z wstrząsem, bakteryjnym</text>
<text x="333" y="974.5" font-style="italic" textLength="107" lengthAdjust="spacingAndGlyphs">zapaleniem otrzewnej (Medical Research Agency).</text>
<text x="327" y="981" textLength="231" lengthAdjust="spacingAndGlyphs">• We would like to acknowledge Prof. Chia-Ming Yang from the Department of Electronics Engineering,</text>
<text x="333" y="986.5" textLength="164" lengthAdjust="spacingAndGlyphs">College of Engineering at Chang Gung University for enabling access to SEM.</text>
</g>
<rect x="574" y="956" width="121" height="38" fill="#fff"/>
<rect x="576" y="960" width="21" height="7" fill="#f4f4f4" stroke="#ddd" stroke-width="0.3"/>
<rect x="576" y="967" width="21" height="7" fill="#d4213d"/>
<text x="600" y="964" font-size="3.3" fill="#333">Rzeczpospolita</text><text x="600" y="968.5" font-size="3.3" fill="#333">Polska</text>
<path d="M650,962 l6,-3 l6,3 v9 l-6,3 l-6,-3z" fill="#d4213d"/>
<path d="M651,965 h10 M651,968 h10" stroke="#fff" stroke-width="0.8"/>
<text x="664" y="961" font-size="3.5" font-weight="bold" fill="#2b3c8f">KRAJOWY</text><text x="664" y="965.5" font-size="3.5" font-weight="bold" fill="#2b3c8f">PLAN</text><text x="664" y="970" font-size="3.5" font-weight="bold" fill="#2b3c8f">ODBUDOWY</text>
<text x="614" y="982" font-size="3" fill="#333" text-anchor="end">Sfinansowane przez</text><text x="614" y="986" font-size="3" fill="#333" text-anchor="end">Unię Europejską</text><text x="614" y="990" font-size="3" font-weight="bold" fill="#333" text-anchor="end">NextGenerationEU</text>
<rect x="616" y="979" width="20" height="13" fill="#2b3c8f"/>
<circle cx="626" cy="985.5" r="4" fill="none" stroke="#f5d000" stroke-width="0.6" stroke-dasharray="0.6,1.3"/>
<circle cx="660" cy="986" r="5" fill="none" stroke="#c33" stroke-width="0.8"/>
<path d="M660,982 v8 M656,986 h8" stroke="#c33" stroke-width="1.2"/>
<text x="668" y="984" font-size="2.6" fill="#888">AGENCJA</text><text x="668" y="987" font-size="2.6" fill="#888">BADAŃ</text><text x="668" y="990" font-size="2.6" fill="#888">MEDYCZNYCH</text>
<text x="708" y="1018" font-size="7" fill="#999" text-anchor="end" textLength="108" lengthAdjust="spacingAndGlyphs">Created with BioRender Poster Builder</text>
</svg>
</body></html>
